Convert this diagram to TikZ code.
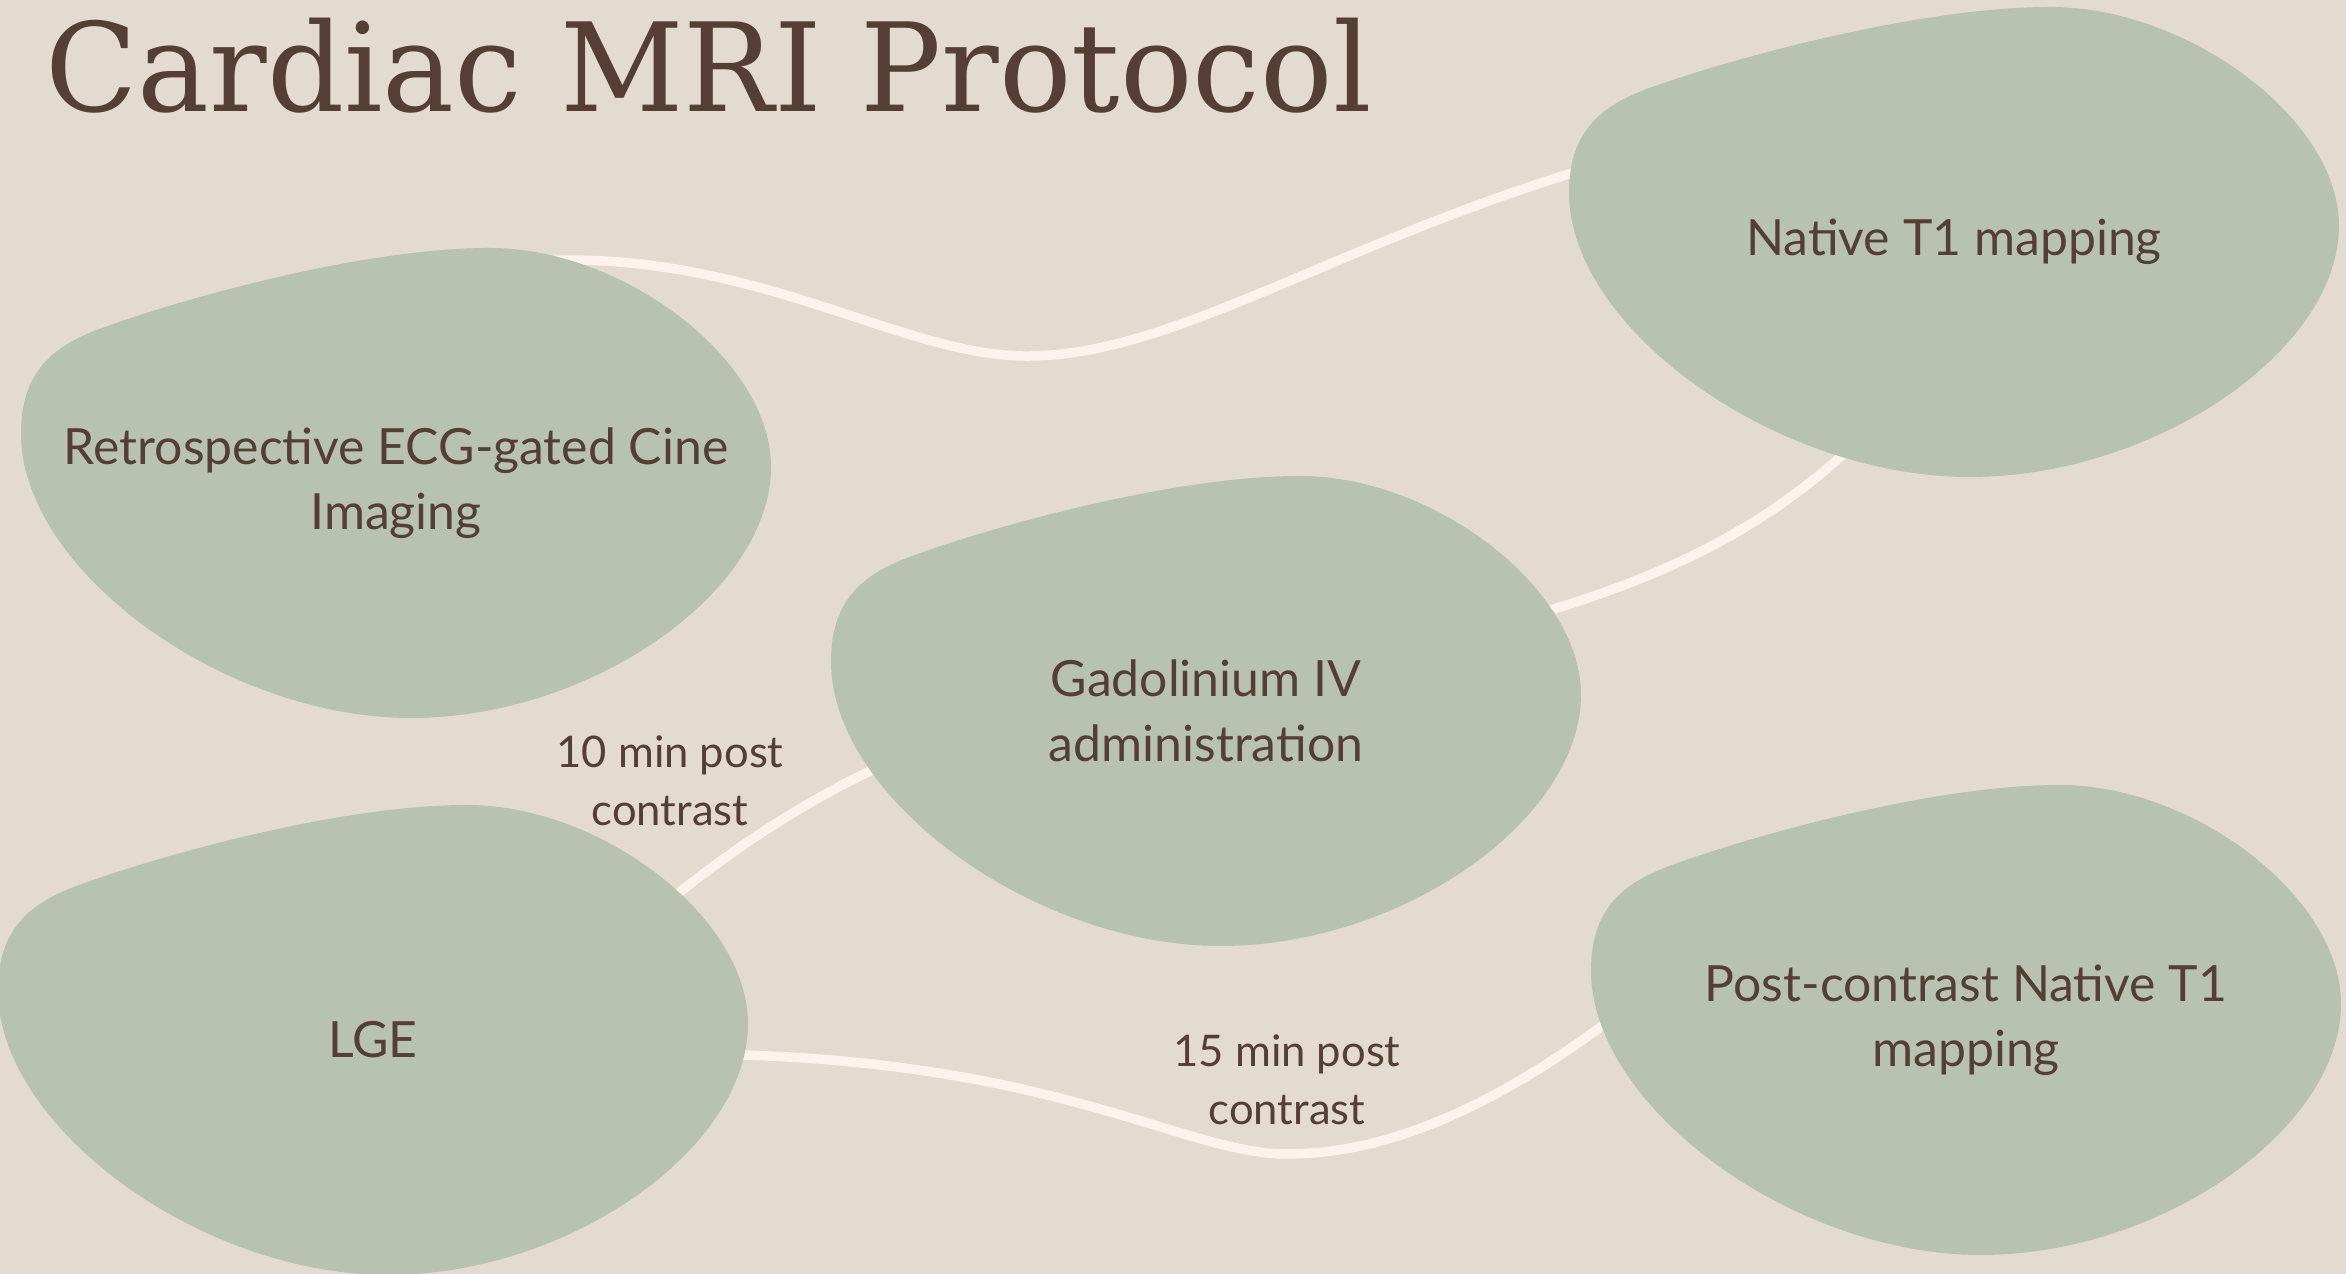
\documentclass[tikz,border=0pt]{standalone}
\usepackage{fontspec}
\setmainfont{Lato}
\newfontfamily\titlefont[FakeStretch=0.98]{DejaVu Serif}

\definecolor{paper}{HTML}{E3DAD0}
\definecolor{sage}{HTML}{B8C2B0}
\definecolor{cocoa}{HTML}{553F34}
\definecolor{cream}{HTML}{FDF3EC}

\pgfdeclarelayer{links}
\pgfdeclarelayer{blobs}
\pgfsetlayers{links,blobs,main}

\tikzset{
	stage/.style={text=cocoa, align=center, font=\fontsize{14.2}{18.6}\selectfont},
	note/.style={text=cocoa, align=center, font=\fontsize{12.4}{16.5}\selectfont},
	link/.style={draw=cream, line width=2.7pt},
	blob/.style={fill=sage},
}

% one pebble shape, drawn round the centre of a node
\newcommand{\blobat}[2][3.75]{\fill[blob,shift={(#2)},xscale=#1,yscale=2.35]
	(0.25,1) .. controls (0.61,1) and (1,0.52) .. (1,0.07)
	.. controls (1,-0.465) and (0.52,-1) .. (0.04,-1)
	.. controls (-0.46,-1) and (-1,-0.37) .. (-1,0.21)
	.. controls (-1,0.45) and (-0.93,0.57) .. (-0.8,0.65)
	.. controls (-0.6,0.77) and (-0.1,1) .. (0.25,1) -- cycle;}

\begin{document}
\begin{tikzpicture}
	\useasboundingbox (0,0) rectangle (23.46,12.74);
	\node[anchor=base west, text=cocoa, font=\titlefont\fontsize{35}{40}\selectfont] (title) at (0.33,11.62) {Cardiac MRI Protocol};

	\node[stage] (cine) at (3.96,7.91) {Retrospective ECG-gated Cine\\Imaging};
	\node[stage] (t1map) at (19.54,10.32) {Native T1 mapping};
	\node[stage] (gado) at (12.06,5.63) {Gadolinium IV\\administration};
	\node[stage] (lge) at (3.73,2.34) {LGE};
	\node[stage] (postt1) at (19.66,2.54) {Post-contrast Native T1\\mapping};

	\node[note] (lbl10) at (6.70,4.93) {10 min post\\contrast};
	\node[note] (lbl15) at (12.87,1.94) {15 min post\\contrast};

	\begin{pgfonlayer}{links}
		\fill[paper] (0,0) rectangle (23.46,12.74);
		\coordinate (cine-ne) at (5.2,10.12);
		\coordinate (t1map-w) at (16.2,11.15);
		\coordinate (t1map-s) at (18.7,8.45);
		\coordinate (gado-e) at (15.2,6.55);
		\coordinate (gado-w) at (9.2,5.25);
		\coordinate (lge-ne) at (6.3,3.4);
		\coordinate (lge-e) at (6.8,2.2);
		\coordinate (postt1-w) at (16.5,2.85);
		\draw[link] (cine-ne) .. controls (7.5,10.3) and (9.0,9.15) .. (10.32,9.18)
			.. controls (11.8,9.2) and (13.5,10.4) .. (t1map-w);
		\draw[link] (t1map-s) .. controls (17.8,7.55) and (16.8,7.0) .. (gado-e);
		\draw[link] (gado-w) .. controls (8.2,4.85) and (7.2,4.2) .. (lge-ne);
		\draw[link] (lge-e) .. controls (10.5,2.2) and (11.8,1.2) .. (12.87,1.2)
			.. controls (14.0,1.2) and (15.2,1.8) .. (postt1-w);
	\end{pgfonlayer}

	\begin{pgfonlayer}{blobs}
		\blobat{cine}
		\blobat[3.85]{t1map}
		\blobat{gado}
		\blobat{lge}
		\blobat{postt1}
	\end{pgfonlayer}
\end{tikzpicture}
\end{document}
